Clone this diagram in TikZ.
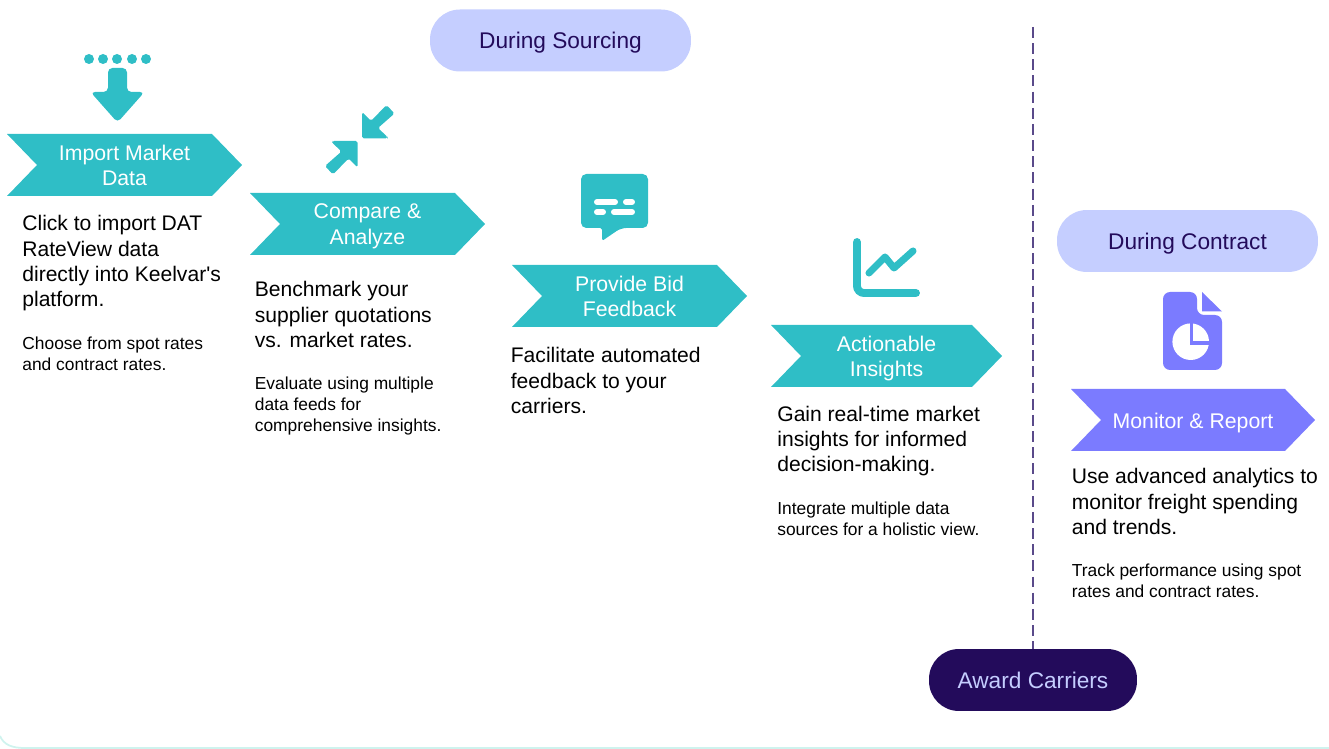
\documentclass[tikz,border=0pt]{standalone}
\usepackage{fontspec}
\setmainfont{Liberation Sans}[Ligatures=TeXOff]
\definecolor{tealstep}{HTML}{2FBEC6}
\definecolor{violetstep}{HTML}{7B7BFF}
\definecolor{palepill}{HTML}{C5CEFF}
\definecolor{darkpill}{HTML}{230B5B}
\definecolor{dividerline}{HTML}{5A4A8A}
\definecolor{cardedge}{HTML}{CFF3EE}
\tikzset{
	pill/.style={rounded corners=17pt, minimum height=1.24cm, inner sep=0pt, text height=9.2pt, text depth=0pt, font=\fontsize{12.9}{15}\selectfont},
	stepname/.style={text=white, align=center, inner sep=0pt, execute at begin node=\strut, execute at end node=\strut, font=\fontsize{12.1}{14.4}\selectfont},
	bodytext/.style={anchor=north west, align=left, inner sep=0pt, font=\fontsize{12}{14.45}\selectfont},
	notetext/.style={anchor=north west, align=left, inner sep=0pt, font=\fontsize{9.9}{11.95}\selectfont},
}
\begin{document}
\begin{tikzpicture}[x=0.02cm, y=-0.02cm]
	\useasboundingbox (0,0) rectangle (1329,749);
	
	% bottom edge of the card
	\draw [color=cardedge, line width=1pt] (0,736) .. controls (4,745) and (12,748) .. (25,748) -- (1329,748);
	
	% arrow shaped steps
	\foreach \xl/\yt/\sw/\col/\nm/\txt in {
		7/134/235/tealstep/importStep/{Import Market\\Data},
		250/193/235/tealstep/compareStep/{Compare \&\\Analyze},
		512/265/235/tealstep/feedbackStep/{Provide Bid\\Feedback},
		771/325/231/tealstep/insightStep/{Actionable\\Insights},
		1071/389/244/violetstep/monitorStep/{Monitor \& Report}}{
		\fill [\col] (\xl,\yt) -- ++(\sw-30,0) -- ++(30,31) -- ++(-30,31) -- ++(30-\sw,0) -- ++(30,-31) -- cycle;
		\node [stepname] (\nm) at (\xl+\sw/2,\yt+34.8) {\txt};}
	
	% texts under the steps
	\node [bodytext] (importBody) at (22,215) {Click to import DAT\\RateView data\\directly into Keelvar's\\platform.};
	\node [notetext] (importNote) at (22,337) {Choose from spot rates\\and contract rates.};
	\node [bodytext] (compareBody) at (254.5,281) {Benchmark your\\supplier quotations\\vs. market rates.};
	\node [notetext] (compareNote) at (254.5,377) {Evaluate using multiple\\data feeds for\\comprehensive insights.};
	\node [bodytext] (feedbackBody) at (510.5,347) {Facilitate automated\\feedback to your\\carriers.};
	\node [bodytext] (insightBody) at (777,405.5) {Gain real-time market\\insights for informed\\decision-making.};
	\node [notetext] (insightNote) at (777,501.5) {Integrate multiple data\\sources for a holistic view.};
	\node [bodytext] (monitorBody) at (1071.5,468) {Use advanced analytics to\\monitor freight spending\\and trends.};
	\node [notetext] (monitorNote) at (1071.5,563.5) {Track performance using spot\\rates and contract rates.};
	
	% phase labels
	\node [pill, fill=palepill, text=darkpill, minimum width=5.22cm] (sourcing) at (560.5,40.5) {During Sourcing};
	\node [pill, fill=palepill, text=darkpill, minimum width=5.22cm] (contract) at (1187.5,241) {During Contract};
	\node [pill, fill=darkpill, text=palepill, minimum width=4.16cm] (award) at (1033,680) {Award Carriers};
	
	\coordinate (divTop) at (1033,27);
	\draw [color=dividerline, line width=1.1pt, dash pattern=on 6.2pt off 3pt] (divTop) -- (award);
	
	% import icon
	\foreach \i in {89,103,117,132,146}{
		\fill [tealstep] (\i,59) circle [radius=5];}
	\fill [tealstep, rounded corners=2.5pt] (108,68) -- (127,68) -- (127,92) -- (144.5,92) -- (117.5,122.5) -- (90.5,92) -- (108,92) -- cycle;
	
	% compare icon
	\foreach \sx/\sy/\dx in {1/1/0,-1/-1/719.5}{
		\begin{scope}[shift={(\dx,{(1-\sy)*139.75})}, xscale=\sx, yscale=\sy]
			\fill [tealstep, rounded corners=1pt] (362,112) -- (371,121) -- (386.5,105) -- (394.5,113.5) -- (378,128) -- (387.5,137) -- (387.5,138.5) -- (362,138.5) -- cycle;
		\end{scope}}
	
	% feedback icon
	\fill [tealstep, rounded corners=3pt] (581,174) -- (648,174) -- (648,228) -- (621,228) [rounded corners=1pt] -- (602,241) -- (602,228) [rounded corners=3pt] -- (581,228) -- cycle;
	\foreach \xa/\xb/\ya in {597/615/202,626/632/202,597/603/212,614/632/212}{
		\draw [white, line width=3.4pt, line cap=round] (\xa,\ya) -- (\xb,\ya);}
	
	% chart icon
	\draw [tealstep, line width=4.5pt, line cap=round, rounded corners=4pt] (857,242) -- (857,293) -- (916,293);
	\draw [tealstep, line width=4pt, line cap=round, line join=round] (869,273) -- (885,257) -- (894,268) -- (913,251);
	
	% report icon
	\fill [violetstep, rounded corners=4pt] (1163,292) -- (1197,292) -- (1197,315) -- (1222,315) -- (1222,370) -- (1163,370) -- cycle;
	\fill [violetstep] (1202,292) -- (1222,311.5) -- (1202,311.5) -- cycle;
	\fill [white] (1190.7,341.7) circle [radius=18.3];
	\draw [violetstep, line width=1.9pt] (1191.5,321) -- (1191.5,343) -- (1212,343);
\end{tikzpicture}
\end{document}
